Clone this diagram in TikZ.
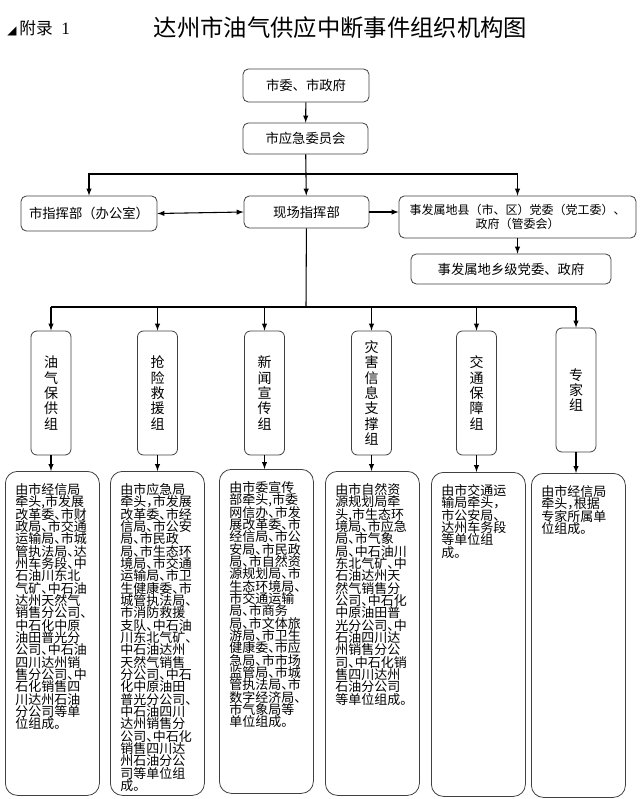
\documentclass[tikz,border=0pt]{standalone}
\usepackage{fontspec}
\setmainfont{Liberation Serif}
\newfontfamily\cjk{Noto Sans CJK SC}
\newfontfamily\cjkhalf[RawFeature=+halt]{Noto Sans CJK SC}
\newfontfamily\symb{DejaVu Sans}

\begin{document}
\begin{tikzpicture}[x=0.75pt,y=-0.75pt,>=latex,
  every node/.style={inner sep=0pt},
  top/.style={draw=black!75,line width=0.6pt,rounded corners=4pt,align=center,
    font=\cjk\fontsize{10}{11.5}\selectfont},
  grp/.style={draw=black!75,line width=0.6pt,rounded corners=4.5pt,align=center,
    minimum width=30pt,minimum height=93pt,font=\cjk\fontsize{10.5}{11.5}\selectfont},
  det/.style={draw=black!75,line width=0.6pt,rounded corners=9pt,inner xsep=7.5pt,inner ysep=9pt,
    anchor=north west,font=\cjkhalf\fontsize{9.75}{9.25}\selectfont},
  arr/.style={->,line width=0.8pt}]
\useasboundingbox (0,0) rectangle (640,799);
\newcommand\detbox[4]{
\node[det] (#1) at (#2,#3) {\parbox[t][225pt][t]{55.5pt}{\lineskiplimit=-10pt\raggedright #4}};
}

% title
\node[anchor=west,font=\fontsize{13}{15}\selectfont] (appx) at (7,28)
  {{\symb\fontsize{9}{9}\selectfont ◢}\,{\cjk\fontsize{12.5}{15}\selectfont 附录}\ \ 1};
\node[font=\cjk\fontsize{17.5}{20}\selectfont] (title) at (340.5,28) {达州市油气供应中断事件组织机构图};

% command levels
\node[top,minimum width=94.5pt,minimum height=24.75pt] (wei) at (306,85.5) {市委、市政府};
\node[top,minimum width=93.75pt,minimum height=23.25pt] (yjw) at (305.5,138.5) {市应急委员会};
\node[top,minimum width=102pt,minimum height=26.25pt] (zhb) at (89,213.5) {市指挥部（办公室）};
\node[top,minimum width=93.75pt,minimum height=24pt] (xc) at (306.5,212) {现场指挥部};
\node[top,minimum width=177.75pt,minimum height=31.5pt,font=\cjk\fontsize{9}{11}\selectfont] (xian) at (517.5,217)
  {事发属地县（市、区）党委（党工委）、\\政府（管委会）};
\node[top,minimum width=150pt,minimum height=22.5pt] (xiang) at (511,269) {事发属地乡级党委、政府};

\coordinate (bus1) at (306,174);
\coordinate (bus2) at (306,307);
\draw[arr] (wei) -- (yjw);
\draw[arr] (yjw) -- (xc);
\draw[arr] (bus1) -| (zhb);
\draw[arr] (bus1) -| (xian);
\draw[<->,line width=0.8pt] (zhb.east) -- (xc.west);
\draw[arr] (xc.east) -- (xc.east -| xian.west);
\draw[arr] (xian.south) -- (xian.south |- xiang.north);

% working groups
\node[grp] (g1) at (51,393) {油\\气\\保\\供\\组};
\node[grp] (g2) at (157.5,393) {抢\\险\\救\\援\\组};
\node[grp] (g3) at (264.5,393) {新\\闻\\宣\\传\\组};
\node[grp] (g4) at (371.5,393) {灾\\害\\信\\息\\支\\撑\\组};
\node[grp] (g5) at (476.5,393) {交\\通\\保\\障\\组};
\node[grp] (g6) at (576,390) {专\\家\\组};

\draw[line width=0.8pt] (xc) -- (bus2);
\draw[line width=0.8pt] (g1 |- bus2) -- (g6 |- bus2);

% members
\detbox{d1}{5}{471}{由市经信局\\牵头,市发展\\改革委、市财\\政局、市交通\\运输局、市城\\管执法局、达\\州车务段、中\\石油川东北\\气矿、中石油\\达州天然气\\销售分公司、\\中石化中原\\油田普光分\\公司、中石油\\四川达州销\\售分公司、中\\石化销售四\\川达州石油\\分公司等单\\位组成。}
\detbox{d2}{110}{471}{由市应急局\\牵头，市发展\\改革委、市经\\信局、市公安\\局、市民政\\局、市生态环\\境局、市交通\\运输局、市卫\\生健康委、市\\城管执法局、\\市消防救援\\支队、中石油\\川东北气矿、\\中石油达州\\天然气销售\\分公司、中石\\化中原油田\\普光分公司、\\中石油四川\\达州销售分\\公司、中石化\\销售四川达\\州石油分公\\司等单位组\\成。}
\detbox{d3}{219}{469}{由市委宣传\\部牵头,市委\\网信办、市发\\展改革委、市\\经信局、市公\\安局、市民政\\局、市自然资\\源规划局、市\\生态环境局、\\市交通运输\\局、市商务\\局、市文体旅\\游局、市卫生\\健康委、市应\\急局、市市场\\监管局、市城\\管执法局、市\\数字经济局、\\市气象局等\\单位组成。}
\detbox{d4}{325}{471}{由市自然资\\源规划局牵\\头,市生态环\\境局、市应急\\局、市气象\\局、中石油川\\东北气矿、中\\石油达州天\\然气销售分\\公司、中石化\\中原油田普\\光分公司、中\\石油四川达\\州销售分公\\司、中石化销\\售四川达州\\石油分公司\\等单位组成。}
\detbox{d5}{431}{472}{由市交通运\\输局牵头，\\市公安局、\\达州车务段\\等单位组\\成。}
\detbox{d6}{531}{473}{由市经信局\\牵头，根据\\专家所属单\\位组成。}

\foreach \i in {1,...,6}{
  \draw[arr] (g\i |- bus2) -- (g\i);
  \draw[arr] (g\i.south) -- (g\i.south |- d\i.north);
}
\end{tikzpicture}
\end{document}
